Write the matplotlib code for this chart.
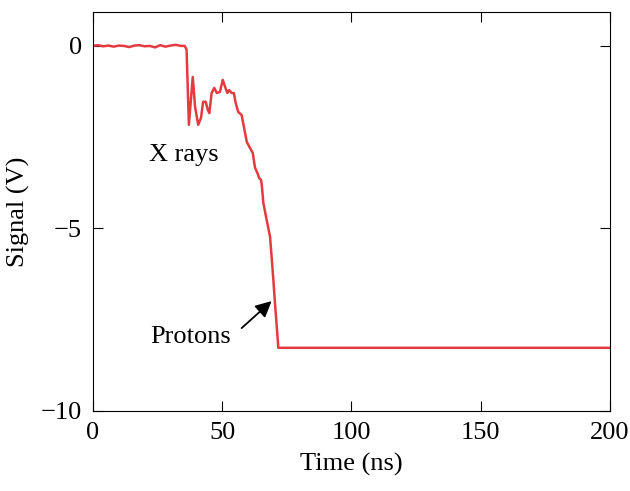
import matplotlib.pyplot as plt
import numpy as np

plt.rcParams['font.family'] = ['Liberation Serif', 'DejaVu Serif']

# flat baseline before the x-ray burst (ns, V)
t_base = [0, 2, 4, 6, 8, 10, 12, 14, 16, 18, 20, 22, 24, 26, 28, 30, 32, 34, 35.5]
v_base = [0.0, 0.02, -0.01, 0.01, -0.02, 0.01, 0.0, -0.03, 0.01, 0.02, -0.01,
          0.0, -0.04, 0.02, -0.02, 0.01, 0.03, 0.0, 0.0]

# x-ray burst and proton ramp
t_sig = [36.2, 37.1, 38.6, 39.5, 40.7, 41.8, 42.6, 43.6, 44.4, 45.0, 45.9, 46.9,
         47.9, 49.1, 50.2, 51.1, 52.0, 52.7, 53.7, 54.5, 55.2, 56.2, 57.5, 58.4,
         59.5, 60.7, 61.8, 62.7, 63.6, 64.3, 65.0, 65.3, 65.9, 67.2, 68.5, 69.1,
         69.7, 70.4, 71.1, 71.7]
v_sig = [-0.1, -2.16, -0.85, -1.67, -2.16, -1.97, -1.53, -1.53, -1.75, -1.84,
         -1.29, -1.15, -1.29, -1.26, -0.93, -1.12, -1.29, -1.21, -1.29, -1.29,
         -1.56, -1.81, -1.89, -2.22, -2.63, -2.79, -2.93, -3.34, -3.48, -3.62,
         -3.67, -3.81, -4.30, -4.77, -5.23, -5.78, -6.33, -7.04, -7.70, -8.27]

# saturated level after the protons
t_end = [72.5, 200]
v_end = [-8.27, -8.27]

t = np.array(t_base + t_sig + t_end)
v = np.array(v_base + v_sig + v_end)

fig = plt.figure(figsize=(6.3, 4.91), dpi=100)
ax = fig.add_axes([0.1476, 0.163, 0.8206, 0.8126])
ax.plot(t, v, color='#e33b3f', lw=1.8)

ax.set_xlim(0, 200)
ax.set_ylim(-10, 0.93)
ax.set_xticks([0, 50, 100, 150, 200])
ax.set_yticks([0, -5, -10])
ax.set_yticklabels(['0', '\u22125', '\u221210'])
ax.tick_params(direction='in', top=True, right=True, labelsize=19, length=7, pad=8)
ax.set_xlabel('Time (ns)', fontsize=19, labelpad=6)
ax.set_ylabel('Signal (V)', fontsize=19, labelpad=8)

ax.text(35.2, -3.0, 'X rays', fontsize=19, ha='center', va='center')
ax.text(37.9, -7.97, 'Protons', fontsize=19, ha='center', va='center')
ax.annotate('', xy=(69.1, -6.99), xytext=(57.5, -7.73),
            arrowprops=dict(arrowstyle='-|>', color='black', lw=1.3,
                            mutation_scale=24, shrinkA=0, shrinkB=0))

fig.savefig('out.png', dpi=100)
